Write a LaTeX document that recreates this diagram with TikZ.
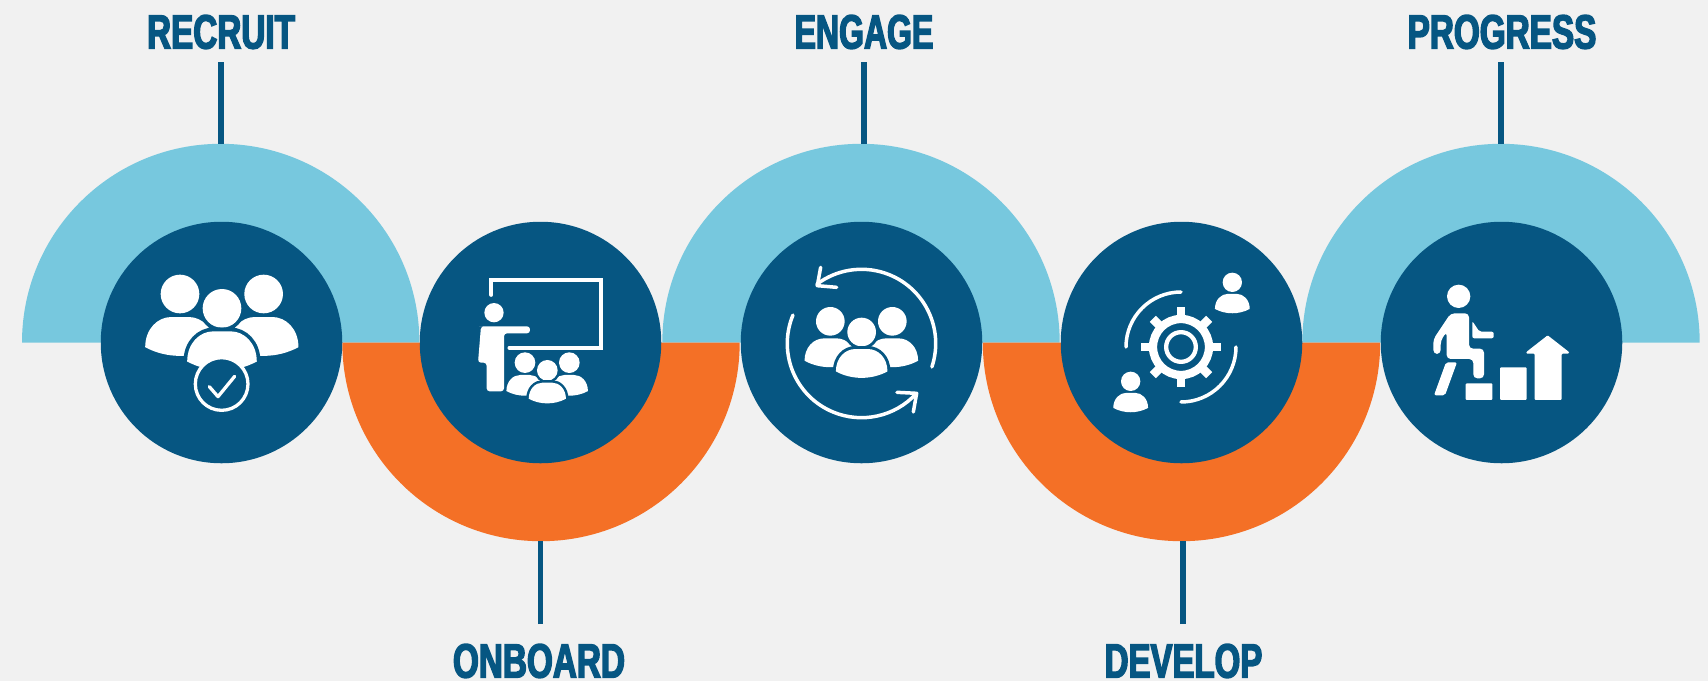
\documentclass[tikz,border=0pt]{standalone}
\usepackage{fontspec}
\newfontfamily\labelfont[FakeStretch=0.68,BoldFeatures={FakeBold=3}]{Liberation Sans}
\definecolor{navy}{HTML}{065682}
\definecolor{sky}{HTML}{77C8DE}
\definecolor{tangerine}{HTML}{F47026}
\definecolor{paper}{HTML}{F1F1F1}
\tikzset{hub/.style = {shape=circle, fill=navy, inner sep=0pt, minimum size=241.5pt}}
\tikzset{heading/.style = {text=navy, inner sep=0pt, outer sep=0pt, text height=35pt, text depth=0pt, transform shape, font=\labelfont\bfseries\fontsize{48}{48}\selectfont}}
\tikzset{stem/.style = {draw=navy, line width=5.5pt}}
\tikzset{zoomed/.style 2 args = {shift={(#1,#2)}, x=.3333pt, y=-.3333pt}}
\tikzset{glyph/.style = {fill=white, draw=none}}
\tikzset{rim/.style = {draw=white, line width=3.5pt, line cap=round, line join=round}}
% head at (#2,#3), head radius #4, #1 = navy gap kept round the figure
\newcommand{\person}[4][0pt]{
\begin{scope}[shift={(#2,#3)}, x=#4*.3333pt, y=-#4*.3333pt]
\fill[white, preaction={draw=navy, line width=#1}] (0,0) circle [radius=1];
\fill[white, preaction={draw=navy, line width=#1}] (-1.8,2.75) .. controls (-1.8,1.8) and (-1.15,1.19) .. (-.45,1.19) -- (.45,1.19)
  .. controls (1.15,1.19) and (1.8,1.8) .. (1.8,2.75) .. controls (.7,3.35) and (-.7,3.35) .. cycle;
\end{scope}
}
\begin{document}
\begin{tikzpicture}[x=1pt, y=-1pt]
\fill[paper] (0,0) rectangle (1708,681);
\coordinate (h0c) at (221.5,342.5);
\coordinate (h1c) at (540.5,342.5);
\coordinate (h2c) at (861.5,342.5);
\coordinate (h3c) at (1181.5,342.5);
\coordinate (h4c) at (1501.5,342.5);
% half discs behind the hubs
\fill[sky] (220.7,342.5) ++(-198.7pt,0pt) arc [start angle=180, end angle=0, radius=198.7pt] -- cycle;
\fill[sky] (861,342.5) ++(-198.7pt,0pt) arc [start angle=180, end angle=0, radius=198.7pt] -- cycle;
\fill[sky] (1501,342.5) ++(-198.7pt,0pt) arc [start angle=180, end angle=0, radius=198.7pt] -- cycle;
\fill[tangerine] (541,342.5) ++(-198.7pt,0pt) arc [start angle=180, end angle=360, radius=198.7pt] -- cycle;
\fill[tangerine] (1181.5,342.5) ++(-198.7pt,0pt) arc [start angle=180, end angle=360, radius=198.7pt] -- cycle;
\node[hub](h0) at (h0c) {};
\node[hub](h1) at (h1c) {};
\node[hub](h2) at (h2c) {};
\node[hub](h3) at (h3c) {};
\node[hub](h4) at (h4c) {};
% headings and their stems
\node[heading, outer ysep=13.5pt, xscale=1.02](recruit) at (221,31) {RECRUIT};
\node[heading, outer ysep=18.5pt, xscale=1.02](onboard) at (539,660) {ONBOARD};
\node[heading, outer ysep=13.5pt, xscale=.98](engage) at (864,31) {ENGAGE};
\node[heading, outer ysep=18.5pt, xscale=1.01](develop) at (1183.5,660) {DEVELOP};
\node[heading, outer ysep=13.5pt, xscale=1.02](progress) at (1502,31) {PROGRESS};
\coordinate (t0) at (221,144);
\coordinate (t1) at (540.4,541);
\coordinate (t2) at (863.8,144);
\coordinate (t3) at (1183,541);
\coordinate (t4) at (1501,144);
\draw[stem] (t0 |- recruit.south) -- (t0);
\draw[stem] (t1 |- onboard.north) -- (t1);
\draw[stem] (t2 |- engage.south) -- (t2);
\draw[stem] (t3 |- develop.north) -- (t3);
\draw[stem] (t4 |- progress.south) -- (t4);
% recruit icon
\begin{scope}[zoomed={120}{250}]
\person{180}{132}{58}
\person{431}{132}{58}
\person[7.4pt]{306}{175}{58}
\draw[draw=white, fill=navy, line width=3.3pt] (305,402) circle [radius=79];
\draw[rim, line width=3.3pt] (268,410) -- (294,440) -- (344,379);
\end{scope}
% onboard icon
\begin{scope}[zoomed={450}{250}]
\draw[rim, line width=3.7pt, line join=miter] (124,135) -- (124,90) -- (453,90) -- (453,293) -- (178,293);
\fill[glyph] (132,188) circle [radius=29];
\fill[glyph, rounded corners=3pt] (96,229) -- (240,229) -- (240,250) -- (162,250) -- (162,424) -- (110,424) -- (110,338) -- (84,338) -- (93,229) -- cycle;
\person{225}{338}{31}
\person{358}{338}{31}
\person[5pt]{292}{361}{31}
\end{scope}
% engage icon
\begin{scope}[zoomed={770}{250}]
\person{181}{214}{43}
\person{367}{214}{43}
\person[6pt]{275}{246}{43}
\draw[rim] (274.5,280.5) ++(-18.4:74.2pt) arc [start angle=-18.4, end angle=127, radius=74.2pt];
\draw[rim] (274.5,280.5) ++(157.5:74.2pt) arc [start angle=157.5, end angle=317.4, radius=74.2pt];
\draw[rim] (152,52) -- (142,107) -- (200,112);
\draw[rim] (381,427) -- (440,430) -- (430,486);
\end{scope}
% develop icon
\begin{scope}[zoomed={1090}{250}]
\coordinate (gear) at (273,291);
\draw[draw=white, line width=8.3pt] (gear) circle [radius=84];
\draw[draw=white, line width=4.3pt] (gear) circle [radius=44.5];
\foreach \a in {0,45,...,315}
  \draw[draw=white, line width=8.7pt] (gear) ++(\a:28pt) -- ++(\a:11.8pt);
\draw[rim] (gear) ++(90:55pt) arc [start angle=90, end angle=180, radius=55pt];
\draw[rim] (gear) ++(0:55pt) arc [start angle=0, end angle=-90, radius=55pt];
\person{427}{97}{29}
\person{122}{394}{29}
\end{scope}
% progress icon
\begin{scope}[zoomed={1410}{250}]
\fill[glyph] (146,139) circle [radius=35];
\fill[glyph, rounded corners=4pt] (122,190) -- (177,190) -- (177,296) -- (222,296) -- (222,385) -- (190,385) -- (190,327) -- (110,327) -- (110,245) -- (92,272) -- (92,312) -- (70,312) -- (70,268) -- cycle;
\fill[glyph, rounded corners=2pt] (187,213) -- (208,245) -- (251,245) -- (251,265) -- (187,265) -- cycle;
\fill[glyph, rounded corners=2pt] (108,337) -- (141,337) -- (105,436) -- (72,436) -- cycle;
\fill[glyph, rounded corners=1pt] (167,400) rectangle (247,450);
\fill[glyph, rounded corners=1pt] (270,352) rectangle (350,450);
\fill[glyph, rounded corners=1pt] (349,306) -- (413,256) -- (477,306) -- (477,311) -- (455,311) -- (455,450) -- (374,450) -- (374,311) -- (349,311) -- cycle;
\end{scope}
\end{tikzpicture}
\end{document}
